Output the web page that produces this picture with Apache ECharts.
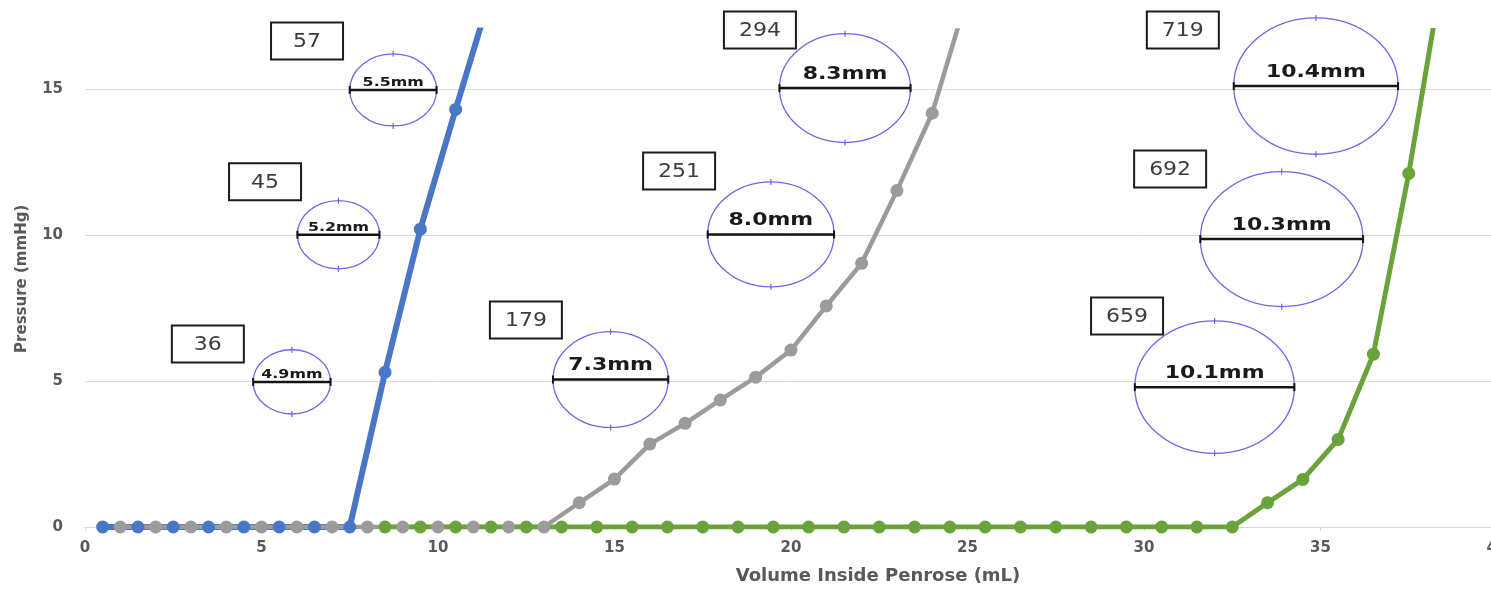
<!DOCTYPE html>
<html>
<head>
<meta charset="utf-8">
<title>Penrose drain pressure vs. volume</title>
<script src="https://cdn.jsdelivr.net/npm/echarts@6.0.0/dist/echarts.min.js"></script>
<style>
  html, body { margin: 0; padding: 0; background: #ffffff; }
  #chart { width: 1491px; height: 591px; }
</style>
</head>
<body>
<div id="chart"></div>
<script>
// Pressure readings (mmHg) against the volume inside each Penrose drain (mL)
const blueVolume   = [0.5, 1.5, 2.5, 3.5, 4.5, 5.5, 6.5, 7.5, 8.5, 9.5, 10.5, 11.5];
const bluePressure = [0, 0, 0, 0, 0, 0, 0, 0, 5.3, 10.2, 14.3, 18.3];

const grayVolume   = [1, 2, 3, 4, 5, 6, 7, 8, 9, 10, 11, 12, 13, 14, 15, 16, 17, 18, 19, 20, 21, 22, 23, 24, 25];
const grayPressure = [0, 0, 0, 0, 0, 0, 0, 0, 0, 0, 0, 0, 0, 0.83, 1.64, 2.84, 3.55, 4.35, 5.13, 6.06, 7.57, 9.03, 11.52, 14.17, 18.2];

const greenVolume   = [8.5, 9.5, 10.5, 11.5, 12.5, 13.5, 14.5, 15.5, 16.5, 17.5, 18.5, 19.5, 20.5, 21.5, 22.5,
                       23.5, 24.5, 25.5, 26.5, 27.5, 28.5, 29.5, 30.5, 31.5, 32.5, 33.5, 34.5, 35.5, 36.5, 37.5, 38.5];
const greenPressure = [0, 0, 0, 0, 0, 0, 0, 0, 0, 0, 0, 0, 0, 0, 0,
                       0, 0, 0, 0, 0, 0, 0, 0, 0, 0, 0.83, 1.63, 3.0, 5.92, 12.11, 19.3];

// Measured lumen diameters (mm) and the boxed values beside them
const ringDiameter = [4.9, 5.2, 5.5, 7.3, 8.0, 8.3, 10.1, 10.3, 10.4];
const boxValue     = [36, 45, 57, 179, 251, 294, 659, 692, 719];

// Where each diameter ring and each box sits on the chart (volume, pressure)
const ringAt = [[5.86, 4.97], [7.18, 10.01], [8.73, 14.97], [14.89, 5.05], [19.43, 10.02], [21.53, 15.03],
                [32.0, 4.79], [33.9, 9.86], [34.87, 15.1]];
const boxAt  = [[3.48, 6.27], [5.10, 11.82], [6.29, 16.64], [12.49, 7.09], [16.83, 12.19], [19.12, 17.02],
                [29.52, 7.23], [30.74, 12.26], [31.10, 17.02]];

const xTicks = { min: 0, max: 40, interval: 5 };
const yTicks = { min: 0, max: 17, interval: 5 };

const pairs = (xs, ys) => xs.map((x, i) => [x, ys[i]]);

const TEXT_GRAY = '#595959';
const PX_PER_MM = 15.8;     // ring width on screen per mm of diameter
const RING_ASPECT = 0.83;   // rings are drawn slightly squashed vertically

function renderRing(params, api) {
  const c = api.coord([api.value(0), api.value(1)]);
  const d = api.value(2);
  const rx = d * PX_PER_MM / 2;
  const ry = rx * RING_ASPECT;
  const small = rx * 2 < 100;
  const cx = c[0], cy = c[1];
  const ringColor = '#7064ea';
  return {
    type: 'group',
    children: [
      { type: 'ellipse', shape: { cx: cx, cy: cy, rx: rx, ry: ry },
        style: { fill: 'rgba(0,0,0,0)', stroke: ringColor, lineWidth: 1.3 } },
      { type: 'line', shape: { x1: cx, y1: cy - ry - 3, x2: cx, y2: cy - ry + 3 },
        style: { stroke: ringColor, lineWidth: 1.2 } },
      { type: 'line', shape: { x1: cx, y1: cy + ry - 3, x2: cx, y2: cy + ry + 3 },
        style: { stroke: ringColor, lineWidth: 1.2 } },
      { type: 'line', shape: { x1: cx - rx, y1: cy, x2: cx + rx, y2: cy },
        style: { stroke: '#141414', lineWidth: 2.5 } },
      { type: 'line', shape: { x1: cx - rx, y1: cy - 4, x2: cx - rx, y2: cy + 4 },
        style: { stroke: '#141414', lineWidth: 2 } },
      { type: 'line', shape: { x1: cx + rx, y1: cy - 4, x2: cx + rx, y2: cy + 4 },
        style: { stroke: '#141414', lineWidth: 2 } },
      { type: 'text', x: cx, y: cy - (small ? 1 : 5), scaleX: 1.22,
        style: { text: d.toFixed(1) + 'mm', fontFamily: 'DejaVu Sans', fontWeight: 'bold',
                 fontSize: small ? 13 : 18, fill: '#1a1a1a', align: 'center', verticalAlign: 'bottom' } }
    ]
  };
}

function renderBox(params, api) {
  const c = api.coord([api.value(0), api.value(1)]);
  const w = 72, h = 37;
  return {
    type: 'group',
    children: [
      { type: 'rect', shape: { x: c[0] - w / 2, y: c[1] - h / 2, width: w, height: h },
        style: { fill: '#ffffff', stroke: '#1c1c1c', lineWidth: 2 } },
      { type: 'text', x: c[0], y: c[1] + 1, scaleX: 1.1,
        style: { text: String(api.value(2)), fontFamily: 'DejaVu Sans', fontSize: 20,
                 fill: '#3d3d3d', align: 'center', verticalAlign: 'middle' } }
    ]
  };
}

function lineSeries(name, xs, ys, color, width) {
  return {
    name: name,
    type: 'line',
    data: pairs(xs, ys),
    smooth: false,
    symbol: 'circle',
    symbolSize: 13,
    showSymbol: true,
    clip: true,
    lineStyle: { color: color, width: width },
    itemStyle: { color: color, borderWidth: 0 },
    emphasis: { disabled: true },
    z: 3
  };
}

const chart = echarts.init(document.getElementById('chart'), null, { renderer: 'canvas' });

chart.setOption({
  animation: false,
  backgroundColor: '#ffffff',
  grid: { left: 85, top: 30.6, width: 1412, height: 496.4, containLabel: false, outerBoundsMode: 'none' },
  xAxis: {
    type: 'value',
    min: xTicks.min, max: xTicks.max, interval: xTicks.interval,
    name: 'Volume Inside Penrose (mL)',
    nameLocation: 'middle',
    nameGap: 40,
    nameTextStyle: { fontFamily: 'DejaVu Sans', fontWeight: 'bold', fontSize: 18, color: TEXT_GRAY,
                     padding: [0, 0, 0, 174] },
    axisLine: { show: true, lineStyle: { color: '#d9d9d9', width: 1 } },
    axisTick: { show: true, length: 4, lineStyle: { color: '#d9d9d9' } },
    axisLabel: { margin: 14, fontFamily: 'DejaVu Sans', fontWeight: 'bold', fontSize: 15, color: TEXT_GRAY },
    splitLine: { show: false }
  },
  yAxis: {
    type: 'value',
    min: yTicks.min, max: yTicks.max, interval: yTicks.interval,
    name: 'Pressure (mmHg)',
    nameLocation: 'middle',
    nameGap: 55,
    nameTextStyle: { fontFamily: 'DejaVu Sans', fontWeight: 'bold', fontSize: 15, color: TEXT_GRAY },
    axisLine: { show: false },
    axisTick: { show: false },
    axisLabel: { margin: 22, showMaxLabel: false, fontFamily: 'DejaVu Sans', fontWeight: 'bold',
                 fontSize: 15, color: TEXT_GRAY },
    splitLine: { show: true, showMaxLine: false, lineStyle: { color: '#dcdcdc', width: 1 } }
  },
  series: [
    lineSeries('Drain A', blueVolume, bluePressure, '#4a76c6', 6),
    lineSeries('Drain B', grayVolume, grayPressure, '#9b9b9b', 4.5),
    lineSeries('Drain C', greenVolume, greenPressure, '#6aa33c', 5),
    {
      name: 'Diameter',
      type: 'custom',
      renderItem: renderRing,
      data: ringAt.map((p, i) => [p[0], p[1], ringDiameter[i]]),
      encode: { x: 0, y: 1 },
      clip: false,
      silent: true,
      z: 5
    },
    {
      name: 'Value',
      type: 'custom',
      renderItem: renderBox,
      data: boxAt.map((p, i) => [p[0], p[1], boxValue[i]]),
      encode: { x: 0, y: 1 },
      clip: false,
      silent: true,
      z: 5
    }
  ]
});
</script>
</body>
</html>
